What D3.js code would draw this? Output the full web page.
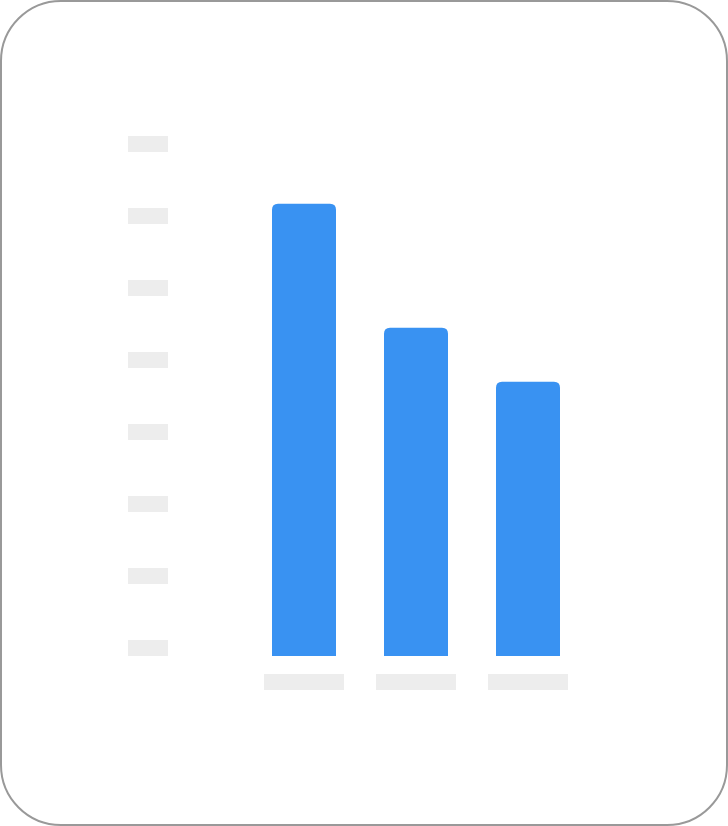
<!DOCTYPE html>
<html><head><meta charset="utf-8">
<script src="https://cdn.jsdelivr.net/npm/d3@7"></script>
<style>html,body{margin:0;padding:0;background:#fff;}svg{display:block;}</style>
</head><body>
<script>
const categories = ["A", "B", "C"];
const values = [62.8, 45.6, 38.1];
const yTicks = [0, 10, 20, 30, 40, 50, 60, 70];

const W = 728, H = 826;
const svg = d3.select("body").append("svg").attr("width", W).attr("height", H);

svg.append("rect").attr("x", 1).attr("y", 1).attr("width", W - 2).attr("height", H - 2)
  .attr("rx", 60).attr("ry", 60).attr("fill", "#fff").attr("stroke", "#999").attr("stroke-width", 2);

const y = d3.scaleLinear().domain([0, 70]).range([656, 152]);
const x = d3.scaleBand().domain(categories).range([248, 584]).paddingInner(48/112).paddingOuter(24/112);

// y tick placeholders
svg.append("g").selectAll("rect").data(yTicks).join("rect")
  .attr("x", 128).attr("y", d => y(d) - 16).attr("width", 40).attr("height", 16)
  .attr("fill", "#ededed");

// bars with rounded top
const r = 6;
svg.append("g").selectAll("path").data(categories).join("path")
  .attr("fill", "#3992f2")
  .attr("d", (c, i) => {
    const x0 = x(c), w = x.bandwidth(), y0 = y(values[i]), y1 = y(0);
    return `M${x0},${y1}V${y0 + r}Q${x0},${y0} ${x0 + r},${y0}H${x0 + w - r}Q${x0 + w},${y0} ${x0 + w},${y0 + r}V${y1}Z`;
  });

// x label placeholders
svg.append("g").selectAll("rect").data(categories).join("rect")
  .attr("x", c => x(c) + x.bandwidth() / 2 - 40).attr("y", 674).attr("width", 80).attr("height", 16)
  .attr("fill", "#ededed");
</script>
</body></html>
